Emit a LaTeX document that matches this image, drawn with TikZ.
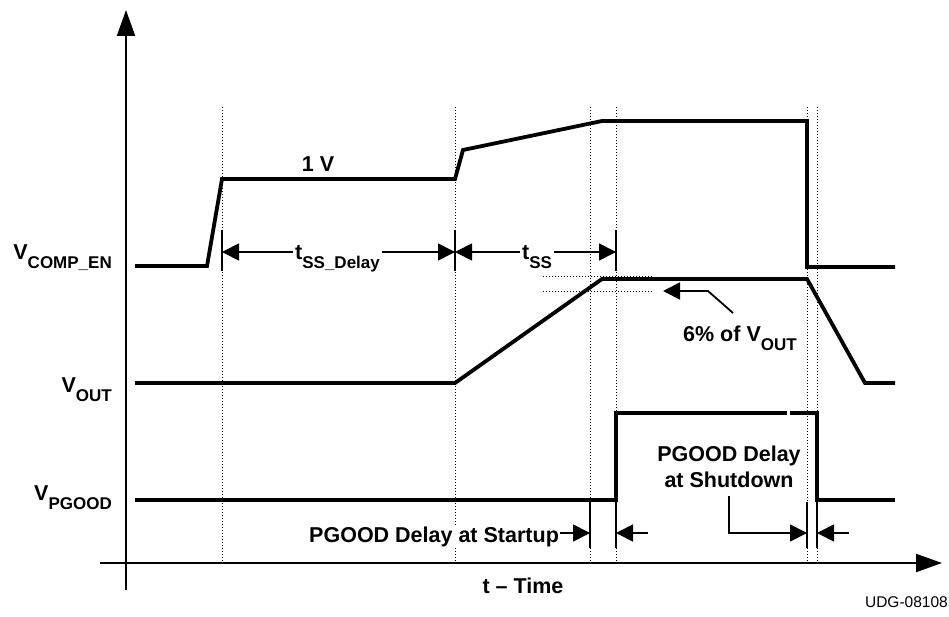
\documentclass[tikz,border=0pt]{standalone}
\usepackage{fontspec}
\setmainfont{Liberation Sans}
\usetikzlibrary{arrows.meta,positioning}

\newcommand{\lowsub}[1]{\raisebox{-9pt}{\fontsize{17}{17}\selectfont #1}}

\begin{document}
\begin{tikzpicture}[
  x=1pt, y=-1pt,
  >={Triangle[length=17pt,width=17pt]},
  sig/.style={line width=3.8pt, line join=miter},
  guide/.style={line width=1pt, dash pattern=on 1.3pt off 1.7pt},
  dim/.style={line width=1.8pt},
  tick/.style={line width=1.8pt},
  lbl/.style={font=\fontsize{21.5}{25}\selectfont\bfseries, inner sep=2pt}
]
\useasboundingbox (0,0) rectangle (949,617);

% axes
\coordinate (orig) at (126,563);
\coordinate (ytop) at (126,10);
\coordinate (xend) at (942,563);
\draw[line width=2pt, -{Triangle[length=26pt,width=18pt]}] (126,590) -- (ytop);
\draw[line width=2pt, -{Triangle[length=26pt,width=18pt]}] (100,563) -- (xend);

% timing guides
\foreach \gx in {222,455,590,616,807,817}
  \draw[guide] (\gx,107) -- (\gx,563);

% signals
\draw[sig] (135,266) -- (207,266) -- (222,179) -- (455,179) -- (463,150)
  -- (602,121) -- (807,121) -- (807,267) -- (895,267);
\draw[sig] (135,383) -- (455,383) -- (602,279) -- (807,279) -- (865,383) -- (895,383);
\draw[sig] (135,500) -- (616,500) -- (616,413) -- (787,413);
\draw[sig] (790,413) -- (817,413) -- (817,500) -- (895,500);

% signal names
\node[lbl, anchor=base east] (vcomp) at (114,260) {V\lowsub{COMP\_EN}};
\node[lbl, anchor=base east] (vout) at (114,392) {V\lowsub{OUT}};
\node[lbl, anchor=base east] (vpgood) at (114,500) {V\lowsub{PGOOD}};
\node[lbl, anchor=base] (onev) at (318,172) {1 V};

% soft-start timing
\coordinate (d0) at (222,252);
\coordinate (d1) at (455,252);
\coordinate (d2) at (616,252);
\foreach \tx in {222,455,616}
  \draw[tick] (\tx,230) -- (\tx,271);
\node[lbl, anchor=base west] (ssdelay) at (293,260) {t\lowsub{SS\_Delay}};
\node[lbl, anchor=base west] (ss) at (520,260) {t\lowsub{SS}};
\draw[dim, ->] (ssdelay.west |- d0) -- (d0);
\draw[dim, ->] (ssdelay.east |- d1) -- (d1);
\draw[dim, ->] (ss.west |- d1) -- (d1);
\draw[dim, ->] (ss.east |- d2) -- (d2);

% 6% window
\draw[guide] (543,277) -- (653,277);
\draw[guide] (543,291) -- (653,291);
\node[lbl, anchor=base west] (pct) at (681,341) {6\% of V\lowsub{OUT}};
\coordinate (pcttail) at (733,313);
\coordinate (pctbend) at (708,291);
\coordinate (pcttip) at (663,291);
\draw[dim, ->] (pcttail) -- (pctbend) -- (pcttip);

% PGOOD delays
\draw[tick] (590,500) -- (590,548);
\draw[tick] (616,500) -- (616,548);
\draw[tick] (807,502) -- (807,548);
\draw[tick] (817,500) -- (817,548);
\node[lbl, anchor=base west, fill=white, inner sep=1pt] (startup) at (308,542) {PGOOD Delay at Startup};
\coordinate (su0) at (590,533);
\coordinate (su1) at (616,533);
\coordinate (su2) at (648,533);
\draw[dim, ->] (startup.east |- su0) -- (su0);
\draw[dim, ->] (su2) -- (su1);
\node[lbl, align=center, anchor=base, font=\fontsize{21.5}{26}\selectfont\bfseries] (shutdown) at (729,487) {PGOOD Delay\\at Shutdown};
\coordinate (sd0) at (807,533);
\coordinate (sd1) at (817,533);
\coordinate (sd2) at (849,533);
\draw[dim, ->] (729,496) -- (729,533) -- (sd0);
\draw[dim, ->] (sd2) -- (sd1);

% axis labels
\node[lbl, anchor=base] (time) at (523,593) {t -- Time};
\node[anchor=base east, inner sep=0pt, font=\fontsize{15.5}{18}\selectfont] (udg) at (948,607) {UDG-08108};

\end{tikzpicture}
\end{document}
